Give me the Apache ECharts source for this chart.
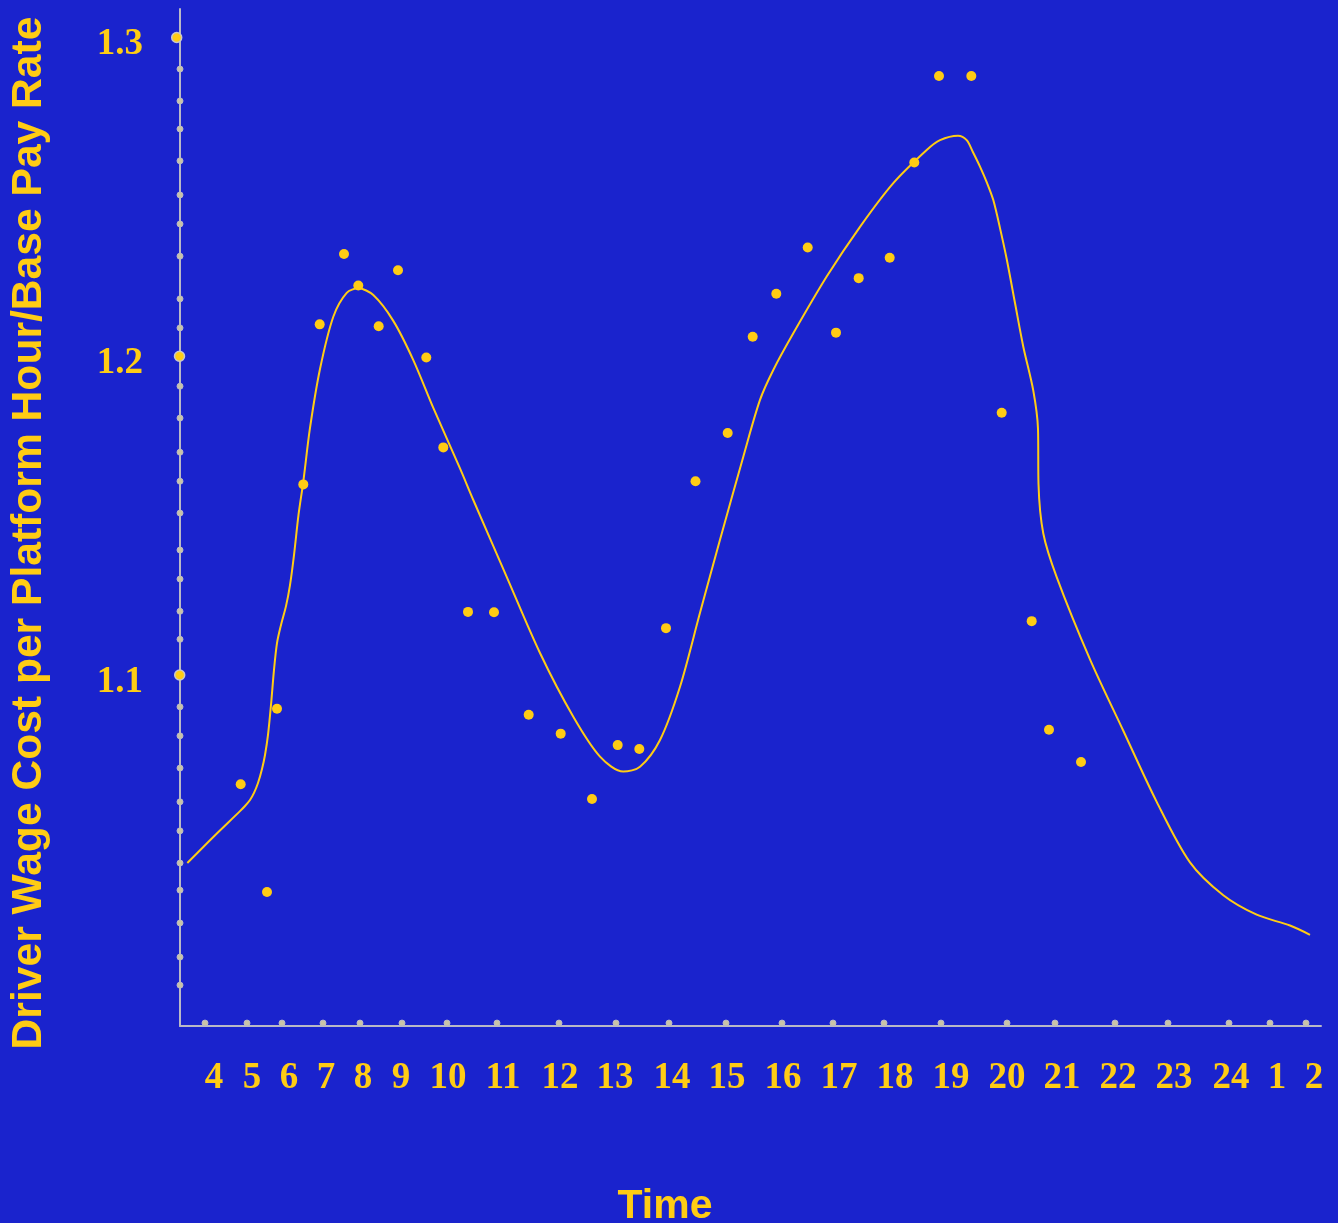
<!DOCTYPE html>
<html>
<head>
<meta charset="utf-8">
<script src="https://cdn.jsdelivr.net/npm/echarts@6/dist/echarts.min.js"></script>
<style>
html,body{margin:0;padding:0;background:#1a23cd;overflow:hidden;}
#chart{width:1338px;height:1223px;}
</style>
</head>
<body>
<div id="chart"></div>
<script>
// x is a position along the time axis (arbitrary units, axis spans 0..114.1)
const xLabelPos = [3.4,7.2,10.9,14.6,18.3,22.1,26.8,32.3,38.0,43.5,49.2,54.7,60.3,65.9,71.5,77.1,82.7,88.2,93.8,99.4,105.1,109.7,113.4];
const xLabelText = ['4','5','6','7','8','9','10','11','12','13','14','15','16','17','18','19','20','21','22','23','24','1','2'];
const xTickPos = [2.5,6.7,10.2,14.3,18.0,22.2,26.7,31.7,37.9,43.6,48.9,54.6,60.2,65.3,70.4,76.1,82.7,87.5,93.5,98.8,104.9,109.0,112.6];

const yMajorVals = [1.3,1.2,1.1];
const yMajorX = [-0.33,-0.05,-0.03];
const yMinorVals = [1.2901,1.2801,1.2713,1.2613,1.2506,1.2415,1.2314,1.2180,1.2089,1.1906,1.1806,1.1699,1.1608,1.1508,1.1392,1.1301,1.1200,1.1112,1.0900,1.0809,1.0708,1.0602,1.0511,1.0410,1.0325,1.0222,1.0115,1.0027];

const pointX = [6.07,8.7,9.7,12.33,13.97,16.4,17.83,19.87,21.8,24.63,26.33,28.8,31.4,34.87,38.07,41.2,43.77,45.93,48.6,51.55,54.77,57.27,59.63,62.77,65.6,67.87,70.97,73.43,75.9,79.13,82.17,85.17,86.9,90.1];
const pointY = [1.0657,1.0319,1.0894,1.1598,1.2100,1.2321,1.2222,1.2094,1.2270,1.1996,1.1714,1.1198,1.1197,1.0875,1.0816,1.0611,1.0780,1.0768,1.1147,1.1608,1.1759,1.2061,1.2196,1.2341,1.2074,1.2245,1.2309,1.2608,1.2879,1.2879,1.1823,1.1169,1.0828,1.0727];

const curveX = [0.73,3.33,6.0,6.5,7.0,7.4,7.8,8.2,8.5,8.8,9.1,9.4,9.7,10.1,10.6,11.0,11.4,11.85,12.33,13.0,14.0,15.33,16.67,17.83,19.33,21.33,23.33,25.33,28.0,29.33,32.67,36.0,39.33,42.0,44.33,46.0,48.0,50.0,52.0,54.0,56.33,58.0,59.33,61.33,64.67,68.0,71.33,74.67,76.0,77.8,78.67,79.3,80.0,80.7,81.33,82.0,82.67,83.5,84.33,85.33,85.8,85.85,86.33,87.67,91.0,94.33,97.67,101.0,104.33,107.67,111.0,113.0];
const curveY = [1.0410,1.0492,1.0573,1.0589,1.0608,1.0630,1.0661,1.0705,1.0749,1.0812,1.0906,1.1016,1.1100,1.1157,1.1216,1.1282,1.1376,1.1502,1.1607,1.1775,1.1960,1.2124,1.2199,1.2213,1.2192,1.2111,1.1988,1.1838,1.1648,1.1549,1.1308,1.1069,1.0869,1.0744,1.0697,1.0712,1.0796,1.0963,1.1195,1.1424,1.1685,1.1863,1.1957,1.2072,1.2250,1.2406,1.2543,1.2647,1.2678,1.2692,1.2678,1.2640,1.2595,1.2544,1.2490,1.2402,1.2305,1.2167,1.2030,1.1892,1.1772,1.1599,1.1444,1.1307,1.1049,1.0825,1.0602,1.0412,1.0309,1.0248,1.0214,1.0185];

const X_MIN = 0, X_MAX = 114.1;
const Y_MIN = 0.98988, Y_MAX = 1.30894;
const xTickY = 0.9908;

const YEL = '#ffcc14';
const GRAY = '#b9b9c6';
const zip = (a, b) => a.map((v, i) => [v, b[i]]);
const labelFont = {color: YEL, fontFamily: 'Liberation Serif', fontWeight: 'bold', fontSize: 37};

const chart = echarts.init(document.getElementById('chart'), null, {renderer: 'canvas'});
chart.setOption({
  backgroundColor: '#1a23cd',
  animation: false,
  grid: {left: 180, right: 17, top: 9, bottom: 197, containLabel: false, outerBoundsMode: 'none'},
  xAxis: {
    type: 'value', min: X_MIN, max: X_MAX,
    splitLine: {show: false},
    axisTick: {show: false},
    axisLine: {show: true, onZero: false, lineStyle: {color: GRAY, width: 2}},
    axisLabel: Object.assign({
      customValues: xLabelPos,
      margin: 34,
      formatter: function (v) {
        for (let i = 0; i < xLabelPos.length; i++) {
          if (Math.abs(xLabelPos[i] - v) < 1e-6) return xLabelText[i];
        }
        return '';
      }
    }, labelFont),
    name: 'Time',
    nameLocation: 'middle',
    nameGap: 160,
    nameTextStyle: {color: YEL, fontFamily: 'Liberation Sans', fontWeight: 'bold', fontSize: 41, padding: [0, 171, 0, 0]}
  },
  yAxis: {
    type: 'value', min: Y_MIN, max: Y_MAX,
    splitLine: {show: false},
    axisTick: {show: false},
    axisLine: {show: true, onZero: false, lineStyle: {color: GRAY, width: 2}},
    axisLabel: Object.assign({
      customValues: yMajorVals,
      margin: 37,
      formatter: v => '{t|' + v.toFixed(1) + '}',
      rich: {t: Object.assign({padding: [14, 0, 0, 0]}, labelFont)}
    }, labelFont),
    name: 'Driver Wage Cost per Platform Hour/Base Pay Rate',
    nameLocation: 'middle',
    nameGap: 129,
    nameTextStyle: {color: YEL, fontFamily: 'Liberation Sans', fontWeight: 'bold', fontSize: 42.6, padding: [0, 31, 0, 0]}
  },
  series: [
    {
      type: 'scatter', name: 'yMinorTicks', data: yMinorVals.map(v => [0, v]),
      symbolSize: 6, clip: false, silent: true,
      itemStyle: {color: '#c9c4a6', borderColor: GRAY, borderWidth: 1, opacity: 1}
    },
    {
      type: 'scatter', name: 'xTicks', data: xTickPos.map(v => [v, xTickY]),
      symbolSize: 6, clip: false, silent: true,
      itemStyle: {color: '#c9c4a6', borderColor: GRAY, borderWidth: 1, opacity: 1}
    },
    {
      type: 'scatter', name: 'yMajorTicks', data: zip(yMajorX, yMajorVals),
      symbolSize: 10, clip: false, silent: true,
      itemStyle: {color: YEL, borderColor: '#c8c8cc', borderWidth: 1.5, opacity: 1}
    },
    {
      type: 'line', name: 'fit', data: zip(curveX, curveY),
      smooth: 0.3, showSymbol: false, symbol: 'none',
      lineStyle: {color: YEL, width: 2}
    },
    {
      type: 'scatter', name: 'observations', data: zip(pointX, pointY),
      symbolSize: 10,
      itemStyle: {color: YEL, opacity: 1}
    }
  ]
});
</script>
</body>
</html>
